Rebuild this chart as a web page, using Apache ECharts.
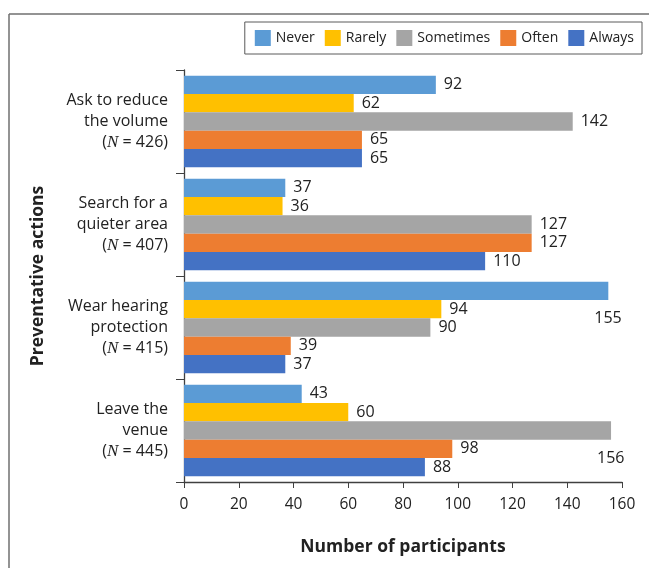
<!DOCTYPE html>
<html>
<head>
<meta charset="utf-8">
<script src="https://cdn.jsdelivr.net/npm/echarts@6/dist/echarts.min.js"></script>
<style>
  html, body { margin: 0; padding: 0; background: #fff; }
  #chart { width: 649px; height: 568px; }
</style>
</head>
<body>
<div id="chart"></div>
<script>
// Preventative actions taken, by frequency
const categories = [
  'Ask to reduce\nthe volume\n({i|N} = 426)',
  'Search for a\nquieter area\n({i|N} = 407)',
  'Wear hearing\nprotection\n({i|N} = 415)',
  'Leave the\nvenue\n({i|N} = 445)'
];
const seriesNames = ['Never', 'Rarely', 'Sometimes', 'Often', 'Always'];
const never = [92, 37, 155, 43];
const rarely = [62, 36, 94, 60];
const sometimes = [142, 127, 90, 156];
const often = [65, 127, 39, 98];
const always = [65, 110, 37, 88];
const xTicks = [0, 20, 40, 60, 80, 100, 120, 140, 160];

const colors = ['#5B9BD5', '#FFC000', '#A5A5A5', '#ED7D31', '#4472C4'];
const values = [never, rarely, sometimes, often, always];
const FONT = 'Open Sans';

const chart = echarts.init(document.getElementById('chart'));

function buildSeries(name, data, color) {
  return {
    name: name,
    type: 'bar',
    barGap: '0%',
    barCategoryGap: '11%',
    itemStyle: { color: color },
    label: {
      show: true,
      position: 'right',
      distance: 8,
      color: '#222',
      fontFamily: FONT,
      fontSize: 16
    },
    // values beyond 150 have their labels set below the bar end
    data: data.map(v => v > 150
      ? { value: v, label: { offset: [-22, 28] } }
      : v)
  };
}

chart.setOption({
  animation: false,
  backgroundColor: '#fff',
  textStyle: { fontFamily: FONT },
  graphic: [
    { type: 'line', shape: { x1: 9, y1: 14, x2: 649, y2: 14 },
      style: { stroke: '#6f6f6f', lineWidth: 1.5 } },
    { type: 'line', shape: { x1: 9, y1: 14, x2: 9, y2: 568 },
      style: { stroke: '#6f6f6f', lineWidth: 1.5 } }
  ],
  legend: {
    data: seriesNames,
    right: 7,
    top: 22,
    padding: [8, 8, 8, 10],
    borderColor: '#5a5a5a',
    borderWidth: 1,
    itemWidth: 16,
    itemHeight: 16,
    itemGap: 10,
    icon: 'rect',
    textStyle: { fontFamily: FONT, fontSize: 14, color: '#222' }
  },
  grid: { left: 184, right: 27, top: 70, bottom: 86, containLabel: false },
  xAxis: {
    type: 'value',
    min: 0,
    max: 160,
    interval: 20,
    name: 'Number of participants',
    nameLocation: 'middle',
    nameGap: 56,
    nameTextStyle: { fontFamily: FONT, fontSize: 17.5, fontWeight: 'bold', color: '#222' },
    axisLine: { show: true, lineStyle: { color: '#404040', width: 1.3 } },
    axisTick: { show: true, length: 6, lineStyle: { color: '#404040' } },
    splitLine: { show: false },
    axisLabel: {
      fontFamily: FONT, fontSize: 15.5, color: '#222', margin: 15,
      formatter: v => xTicks.includes(v) ? String(v) : ''
    }
  },
  yAxis: {
    type: 'category',
    inverse: true,
    data: categories,
    name: 'Preventative actions',
    nameLocation: 'middle',
    nameGap: 137,
    nameRotate: 90,
    nameTextStyle: { fontFamily: FONT, fontSize: 17.5, fontWeight: 'bold', color: '#222' },
    axisLine: { show: true, lineStyle: { color: '#404040', width: 1.3 } },
    axisTick: { show: true, length: 8, lineStyle: { color: '#404040' } },
    axisLabel: {
      fontFamily: FONT, fontSize: 16, color: '#222', margin: 16,
      lineHeight: 21, align: 'right',
      rich: {
        i: { fontFamily: 'Liberation Serif', fontStyle: 'italic', fontSize: 17, lineHeight: 21, color: '#222' }
      }
    }
  },
  series: seriesNames.map((n, i) => buildSeries(n, values[i], colors[i]))
});
</script>
</body>
</html>
